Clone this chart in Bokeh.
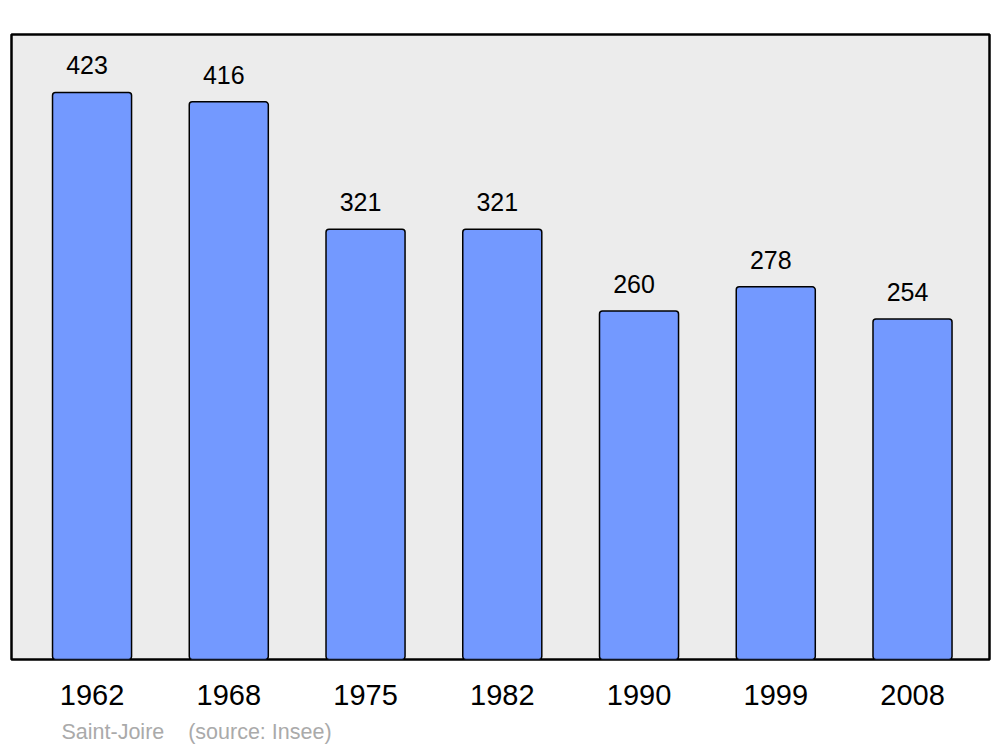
from bokeh.plotting import figure
from bokeh.models import ColumnDataSource, Title, FixedTicker, Range1d
from bokeh.core.properties import value
from bokeh.embed import file_html
from bokeh.resources import INLINE

years = ["1962", "1968", "1975", "1982", "1990", "1999", "2008"]
population = [423, 416, 321, 321, 260, 278, 254]
commune = "Saint-Joire"
source_note = "(source: Insee)"

xs = list(range(len(years)))
src = ColumnDataSource(dict(x=xs, top=population, lab=[str(v) for v in population]))

FONT = "Liberation Sans"

p = figure(width=1000, height=745, output_backend="svg", toolbar_location=None,
           x_range=Range1d(-0.589, 6.563), y_range=Range1d(0, 466.2),
           min_border_left=11, min_border_right=11, min_border_top=34, min_border_bottom=85)
p.background_fill_color = "#ececec"
p.border_fill_color = "white"
p.outline_line_color = "black"
p.outline_line_width = 2.5
p.grid.visible = False
p.yaxis.visible = False

p.vbar(x="x", top="top", bottom=0, width=0.578, source=src,
       fill_color="#7399ff", line_color="black", line_width=1.5, border_radius=3)

p.text(x="x", y="top", text="lab", source=src, x_offset=-5, y_offset=-27,
       text_align="center", text_baseline="middle", text_font=value(FONT),
       text_font_size="25px", text_color="black")

ax = p.xaxis[0]
ax.ticker = FixedTicker(ticks=xs)
ax.major_label_overrides = {i: y for i, y in enumerate(years)}
ax.axis_line_color = None
ax.major_tick_line_color = None
ax.minor_tick_line_color = None
ax.major_label_text_font = FONT
ax.major_label_text_font_size = "29px"
ax.major_label_text_color = "black"
ax.major_label_standoff = 19
# invisible spacer label to push the source note a little lower
ax.axis_label = "\u00a0"
ax.axis_label_text_font_size = "4px"
ax.axis_label_standoff = 0

note = Title(text=commune + "\u00a0\u00a0\u00a0\u00a0" + source_note, align="left", offset=50,
             text_font=FONT, text_font_size="21.5px", text_font_style="normal",
             text_color="#aaaaaa", standoff=4)
p.add_layout(note, "below")

open("out.html", "w").write(file_html(p, INLINE))
